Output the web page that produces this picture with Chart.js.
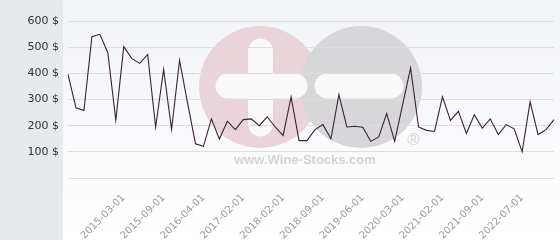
<!DOCTYPE html>
<html>
<head>
<meta charset="utf-8">
<script src="https://cdn.jsdelivr.net/npm/chart.js@4/dist/chart.umd.min.js"></script>
<style>
    body { margin: 0; background: #ffffff; }
    #wrap { width: 560px; height: 240px; }
</style>
</head>
<body>
<div id="wrap"><canvas id="priceChart" width="560" height="240"></canvas></div>
<script>
// tick labels shown on the x axis (every 5th sale, starting at the 8th)
const tickLabels = ['2015-03-01', '2015-09-01', '2016-04-01', '2017-02-01', '2018-02-01', '2018-09-01',
    '2019-06-01', '2020-03-01', '2021-02-01', '2021-09-01', '2022-07-01'];
const firstTick = 7;
const tickStep = 5;

// price per sale, in $
const prices = [396, 268, 258, 540, 549, 479, 220, 502, 457, 438, 472, 195, 415, 185, 449, 288,
    131, 121, 226, 149, 217, 185, 223, 226, 200, 234, 195, 162, 310, 143, 143, 185,
    204, 150, 319, 195, 198, 194, 140, 157, 246, 140, 280, 421, 195, 182, 178, 310,
    220, 255, 170, 242, 191, 226, 166, 204, 188, 100, 291, 166, 185, 223];

const yTicks = [0, 100, 200, 300, 400, 500, 600];

// categories: only the labelled ones carry text
const categories = prices.map(function(p, i) {
    const k = (i - firstTick) / tickStep;
    return (Number.isInteger(k) && k >= 0 && k < tickLabels.length) ? tickLabels[k] : '';
});

// fond + filigrane
const backdrop = {
    id: 'backdrop',
    beforeDraw: function(chart) {
        const ctx = chart.ctx;
        ctx.save();
        const g = ctx.createLinearGradient(0, 0, 0, 240);
        g.addColorStop(0, '#f2f3f7');
        g.addColorStop(1, '#ffffff');
        ctx.fillStyle = g;
        ctx.fillRect(63, 0, 497, 240);
        ctx.fillStyle = '#e7eaed';
        ctx.fillRect(0, 0, 63, 240);

        // logo
        ctx.fillStyle = '#ebd3da';
        ctx.beginPath();
        ctx.arc(260, 87, 61, 0, Math.PI * 2);
        ctx.fill();
        ctx.fillStyle = '#d7d7d9';
        ctx.beginPath();
        ctx.arc(361, 87, 61, 0, Math.PI * 2);
        ctx.fill();

        ctx.strokeStyle = '#f9f9fa';
        ctx.lineCap = 'round';
        ctx.lineWidth = 25;
        ctx.beginPath();
        ctx.moveTo(228, 86); ctx.lineTo(295, 86);
        ctx.moveTo(260.5, 51); ctx.lineTo(260.5, 124);
        ctx.moveTo(327, 86); ctx.lineTo(391, 86);
        ctx.stroke();

        ctx.fillStyle = '#d4d4d4';
        ctx.font = 'bold 13px "Liberation Sans"';
        ctx.textAlign = 'center';
        ctx.textBaseline = 'alphabetic';
        ctx.fillText('www.Wine-Stocks.com', 305, 164);
        ctx.font = '17px "Liberation Sans"';
        ctx.fillText('\u00AE', 413.5, 145);
        ctx.restore();
    }
};

new Chart(document.getElementById('priceChart'), {
    type: 'line',
    data: {
        labels: categories,
        datasets: [{
            data: prices,
            borderColor: '#3b2230',
            borderWidth: 1.1,
            pointRadius: 0,
            tension: 0,
            fill: false
        }]
    },
    options: {
        responsive: false,
        animation: false,
        layout: { padding: { top: 21, right: 0, bottom: 0, left: 0 } },
        plugins: {
            legend: { display: false },
            tooltip: { enabled: false }
        },
        scales: {
            x: {
                offset: false,
                grid: { display: false },
                border: { display: false },
                ticks: {
                    autoSkip: false,
                    maxRotation: 45,
                    minRotation: 45,
                    padding: 6,
                    color: '#9a9a9a',
                    font: { family: 'DejaVu Sans', size: 10 }
                },
                afterFit: function(scale) {
                    scale.height = 62;
                    scale.paddingRight = 6;
                }
            },
            y: {
                min: 0,
                max: 600,
                afterBuildTicks: function(scale) {
                    scale.ticks = yTicks.map(function(v) { return { value: v }; });
                },
                grid: { color: '#dedede', drawTicks: false },
                border: { display: false },
                ticks: {
                    padding: 9,
                    color: '#333333',
                    font: { family: 'DejaVu Sans', size: 11 },
                    callback: function(v) { return v === 0 ? '' : v + ' $'; }
                },
                afterFit: function(scale) { scale.width = 68; }
            }
        }
    },
    plugins: [backdrop]
});
</script>
</body>
</html>
